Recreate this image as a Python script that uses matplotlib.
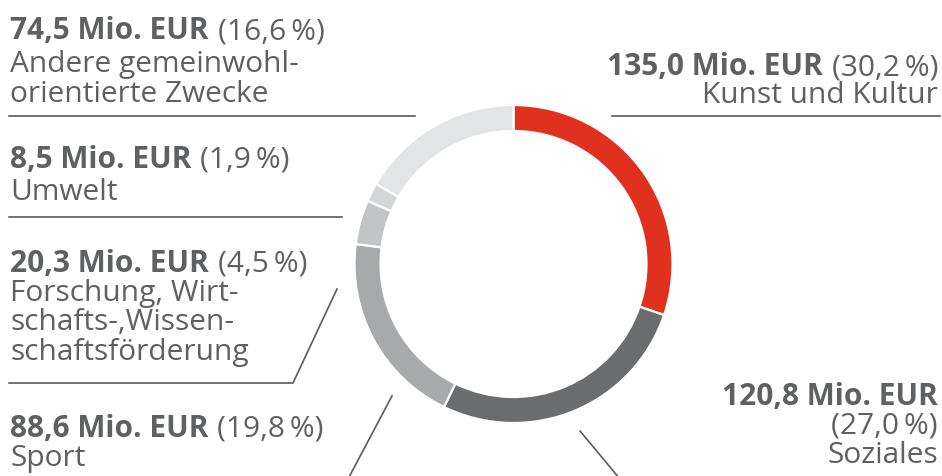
import matplotlib
matplotlib.use("Agg")
import matplotlib.pyplot as plt

# --- Daten ---
kategorien = ["Kunst und Kultur", "Soziales", "Sport",
              "Forschung, Wirtschafts-, Wissenschaftsförderung",
              "Umwelt", "Andere gemeinwohlorientierte Zwecke"]
betrag_mio = [135.0, 120.8, 88.6, 20.3, 8.5, 74.5]
anteil_pct = [30.2, 27.0, 19.8, 4.5, 1.9, 16.6]
farben = ["#e0301e", "#6a6c6d", "#a7a9aa", "#c2c4c5", "#d4d5d6", "#e3e4e5"]

# Beschriftungszeilen je Kategorie (Umbrüche wie im Original)
label_zeilen = [
    ["Kunst und Kultur"],
    ["Soziales"],
    ["Sport"],
    ["Forschung, Wirt-", "schafts-,Wissen-", "schaftsförderung"],
    ["Umwelt"],
    ["Andere gemeinwohl-", "orientierte Zwecke"],
]

W, H = 942, 477
TXT = "#5f6061"
LINE = "#5a5b5c"
FS = 21.5
plt.rcParams["font.family"] = ["Open Sans", "DejaVu Sans"]

fig = plt.figure(figsize=(W / 100, H / 100), dpi=100)
ax = fig.add_axes([0, 0, 1, 1])

# Ring: oben beginnend, im Uhrzeigersinn (y-Achse wird unten invertiert)
ax.pie(anteil_pct, colors=farben, startangle=-90, counterclock=True,
       center=(513.5, 265), radius=159,
       wedgeprops=dict(width=26, edgecolor="white", linewidth=1.6))
ax.set_xlim(0, W)
ax.set_ylim(H, 0)
ax.set_aspect("auto")
ax.axis("off")

renderer = fig.canvas.get_renderer()


def fmt(v):
    return f"{v:.1f}".replace(".", ",")


def kopf(x, y, i, ha="left", umbruch=False):
    fett = f"{fmt(betrag_mio[i])} Mio. EUR"
    normal = f"({fmt(anteil_pct[i])}\u2009%)"
    if umbruch:
        ax.text(x, y, fett, ha=ha, va="baseline", fontsize=FS, weight="bold", color=TXT)
        return normal
    if ha == "left":
        t = ax.text(x, y, fett, ha="left", va="baseline", fontsize=FS, weight="bold", color=TXT)
        w = t.get_window_extent(renderer).width
        ax.text(x + w + 9, y, normal, ha="left", va="baseline", fontsize=FS, color=TXT)
    else:
        t = ax.text(x, y, normal, ha="right", va="baseline", fontsize=FS, color=TXT)
        w = t.get_window_extent(renderer).width
        ax.text(x - w - 9, y, fett, ha="right", va="baseline", fontsize=FS, weight="bold", color=TXT)
    return None


def zeilen(x, y0, i, ha="left", extra=None, dy=30.5):
    lines = ([extra] if extra else []) + label_zeilen[i]
    for k, s in enumerate(lines):
        ax.text(x, y0 + k * dy, s, ha=ha, va="baseline", fontsize=FS, color=TXT)


# Andere gemeinwohlorientierte Zwecke
kopf(10, 39, 5)
zeilen(10, 72, 5)
ax.plot([9, 415], [117, 117], color=LINE, lw=1.2)

# Umwelt
kopf(10, 168, 4)
zeilen(10, 200, 4)
ax.plot([9, 342], [218, 218], color=LINE, lw=1.2)

# Forschung
kopf(10, 272, 3)
zeilen(10, 301, 3, dy=29.5)
ax.plot([9, 293, 337], [384, 384, 290], color=LINE, lw=1.2)

# Sport
kopf(10, 437, 2)
zeilen(10, 466, 2)
ax.plot([392, 348], [397, 480], color=LINE, lw=1.2)

# Kunst und Kultur
kopf(938, 75, 0, ha="right")
zeilen(938, 103, 0, ha="right")
ax.plot([612, 940], [117, 117], color=LINE, lw=1.2)

# Soziales
rest = kopf(938, 405, 1, ha="right", umbruch=True)
zeilen(938, 434, 1, ha="right", extra=rest, dy=29.5)
ax.plot([580, 620], [432, 480], color=LINE, lw=1.2)

fig.savefig("out.png", dpi=100, facecolor="white")
